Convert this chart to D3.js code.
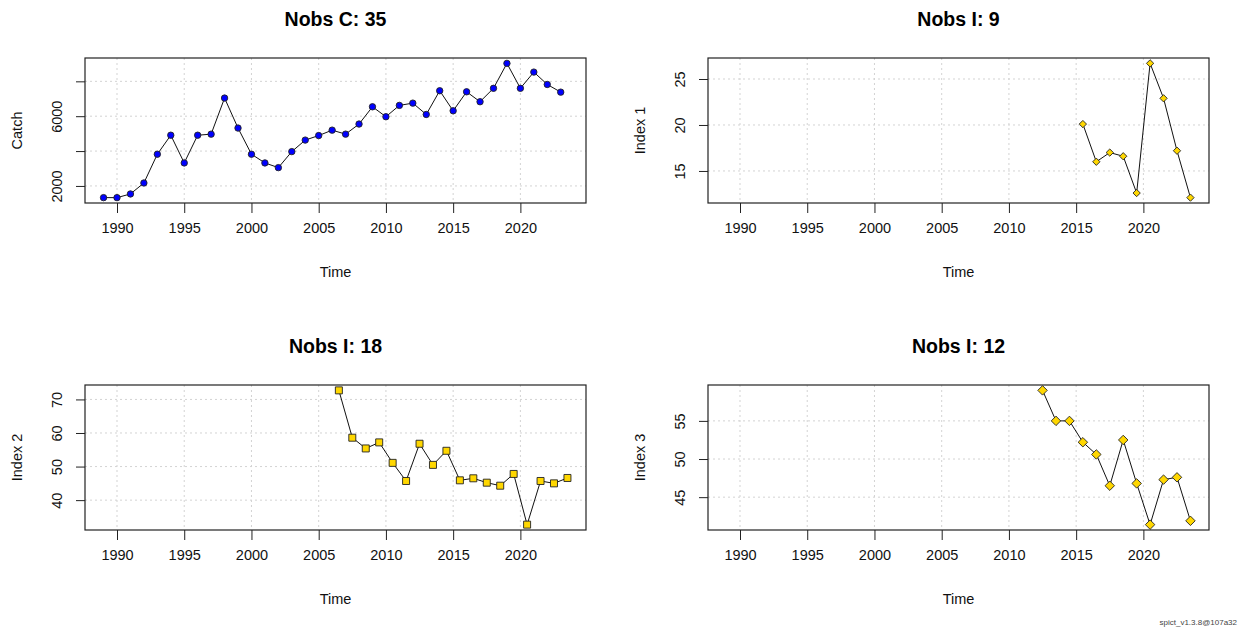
<!DOCTYPE html>
<html>
<head>
<meta charset="utf-8">
<script src="https://cdn.jsdelivr.net/npm/d3@7"></script>
<style>
  html, body { margin: 0; padding: 0; background: #fff; }
  svg { display: block; font-family: "Liberation Sans", Arial, sans-serif; }
</style>
</head>
<body>
<svg id="chart" width="1247" height="629"></svg>
<script>
// Observation data: catch series and three abundance indices
const catchTime = [1989, 1990, 1991, 1992, 1993, 1994, 1995, 1996, 1997, 1998, 1999, 2000,
  2001, 2002, 2003, 2004, 2005, 2006, 2007, 2008, 2009, 2010, 2011, 2012, 2013, 2014,
  2015, 2016, 2017, 2018, 2019, 2020, 2021, 2022, 2023];
const catchValues = [1330, 1330, 1540, 2170, 3820, 4910, 3320, 4910, 4970, 7040, 5320, 3820,
  3320, 3050, 3970, 4630, 4890, 5200, 4970, 5550, 6540, 5970, 6620, 6750, 6100, 7460,
  6310, 7400, 6830, 7600, 9030, 7600, 8530, 7820, 7380];

const index1Time = [2015.5, 2016.5, 2017.5, 2018.5, 2019.5, 2020.5, 2021.5, 2022.5, 2023.5];
const index1Values = [20.1, 16.0, 17.0, 16.6, 12.6, 26.7, 22.9, 17.2, 12.1];

const index2Time = [2006.5, 2007.5, 2008.5, 2009.5, 2010.5, 2011.5, 2012.5, 2013.5, 2014.5,
  2015.5, 2016.5, 2017.5, 2018.5, 2019.5, 2020.5, 2021.5, 2022.5, 2023.5];
const index2Values = [72.7, 58.6, 55.4, 57.2, 51.1, 45.7, 56.8, 50.5, 54.7,
  45.9, 46.5, 45.2, 44.3, 47.8, 32.7, 45.7, 45.0, 46.6];

const index3Time = [2012.5, 2013.5, 2014.5, 2015.5, 2016.5, 2017.5, 2018.5, 2019.5,
  2020.5, 2021.5, 2022.5, 2023.5];
const index3Values = [59.0, 55.0, 55.0, 52.2, 50.6, 46.5, 52.5, 46.8, 41.4, 47.3, 47.6, 41.9];

// Axis ticks and labels
const timeTicks = [1990, 1995, 2000, 2005, 2010, 2015, 2020];
const catchTicks = [2000, 4000, 6000, 8000];
const catchTickLabels = ["2000", "", "6000", ""];
const index1Ticks = [15, 20, 25];
const index2Ticks = [40, 50, 60, 70];
const index3Ticks = [45, 50, 55];

const titles = ["Nobs C: 35", "Nobs I: 9", "Nobs I: 18", "Nobs I: 12"];
const yLabels = ["Catch", "Index 1", "Index 2", "Index 3"];
const footer = "spict_v1.3.8@107a32";

// Panel layout
const panels = [
  { t: catchTime, v: catchValues, ticks: catchTicks, tickLabels: catchTickLabels,
    box: [85, 58, 586, 203], shape: "circle", fill: "#0000ff", size: 3.2 },
  { t: index1Time, v: index1Values, ticks: index1Ticks,
    box: [708, 58, 1209, 203], shape: "diamond", fill: "#ffd700", size: 2.7 },
  { t: index2Time, v: index2Values, ticks: index2Ticks,
    box: [85, 385, 586, 530], shape: "square", fill: "#ffd700", size: 3.5 },
  { t: index3Time, v: index3Values, ticks: index3Ticks,
    box: [708, 385, 1209, 530], shape: "diamond", fill: "#ffd700", size: 3.5 }
];

const svg = d3.select("#chart");

// R-style axis range: data range padded by 4% on each side
function padded(vals) {
  const [lo, hi] = d3.extent(vals);
  const r = hi - lo;
  return [lo - 0.04 * r, hi + 0.04 * r];
}

const allTimes = [].concat(catchTime, index1Time, index2Time, index3Time);
const timeDomain = padded(allTimes);

function markPath(shape, s) {
  if (shape === "diamond") return `M0,${-s * 1.35}L${s * 1.35},0L0,${s * 1.35}L${-s * 1.35},0Z`;
  if (shape === "square") return `M${-s},${-s}H${s}V${s}H${-s}Z`;
  return null;
}

panels.forEach((p, i) => {
  const [x0, y0, x1, y1] = p.box;
  const x = d3.scaleLinear().domain(timeDomain).range([x0, x1]);
  const y = d3.scaleLinear().domain(padded(p.v)).range([y1, y0]);
  const g = svg.append("g");

  // dotted grid
  g.selectAll(".gx").data(timeTicks).join("line")
    .attr("x1", d => x(d)).attr("x2", d => x(d))
    .attr("y1", y0).attr("y2", y1)
    .attr("stroke", "#d3d3d3").attr("stroke-width", 1).attr("stroke-dasharray", "2,3");
  g.selectAll(".gy").data(p.ticks).join("line")
    .attr("x1", x0).attr("x2", x1)
    .attr("y1", d => y(d)).attr("y2", d => y(d))
    .attr("stroke", "#d3d3d3").attr("stroke-width", 1).attr("stroke-dasharray", "2,3");

  // x axis
  const xAxis = d3.axisBottom(x).tickValues(timeTicks).tickFormat(d3.format("d"))
    .tickSizeInner(10).tickSizeOuter(0).tickPadding(10);
  const ax = g.append("g").attr("transform", `translate(0,${y1})`).call(xAxis);
  ax.select(".domain").remove();
  ax.selectAll(".tick line").attr("stroke", "#222");
  ax.selectAll(".tick text").attr("font-size", 14.5).attr("fill", "#111")
    .attr("font-family", "Liberation Sans, Arial, sans-serif");

  // y axis with rotated labels
  const yAxis = d3.axisLeft(y).tickValues(p.ticks)
    .tickFormat((d, k) => p.tickLabels ? p.tickLabels[k] : d3.format("d")(d))
    .tickSizeInner(9).tickSizeOuter(0);
  const ay = g.append("g").attr("transform", `translate(${x0},0)`).call(yAxis);
  ay.select(".domain").remove();
  ay.selectAll(".tick line").attr("stroke", "#222");
  ay.selectAll(".tick text")
    .attr("x", null).attr("dy", null)
    .attr("font-size", 14.5).attr("fill", "#111")
    .attr("font-family", "Liberation Sans, Arial, sans-serif")
    .attr("text-anchor", "middle")
    .attr("dominant-baseline", "central")
    .attr("transform", "translate(-28,0) rotate(-90)");

  // series line
  const line = d3.line().x((d, k) => x(p.t[k])).y(d => y(d));
  g.append("path").datum(p.v).attr("d", line)
    .attr("fill", "none").attr("stroke", "#111").attr("stroke-width", 1);

  // markers
  const pts = g.selectAll(".pt").data(p.v).join(p.shape === "circle" ? "circle" : "path");
  if (p.shape === "circle") {
    pts.attr("cx", (d, k) => x(p.t[k])).attr("cy", d => y(d)).attr("r", p.size);
  } else {
    pts.attr("d", markPath(p.shape, p.size))
      .attr("transform", (d, k) => `translate(${x(p.t[k])},${y(d)})`);
  }
  pts.attr("fill", p.fill).attr("stroke", "#222").attr("stroke-width", 0.9);

  // plot frame
  g.append("rect").attr("x", x0).attr("y", y0)
    .attr("width", x1 - x0).attr("height", y1 - y0)
    .attr("fill", "none").attr("stroke", "#222").attr("stroke-width", 1.2);

  // titles and axis labels
  const cx = (x0 + x1) / 2;
  g.append("text").attr("x", cx).attr("y", y0 - 39)
    .attr("text-anchor", "middle").attr("dominant-baseline", "central")
    .attr("font-size", 19.5).attr("font-weight", "bold").attr("fill", "#000")
    .text(titles[i]);
  g.append("text").attr("x", cx).attr("y", y1 + 69)
    .attr("text-anchor", "middle").attr("dominant-baseline", "central")
    .attr("font-size", 14.5).attr("fill", "#111").text("Time");
  g.append("text")
    .attr("transform", `translate(${x0 - 68},${(y0 + y1) / 2}) rotate(-90)`)
    .attr("text-anchor", "middle").attr("dominant-baseline", "central")
    .attr("font-size", 14.5).attr("fill", "#111").text(yLabels[i]);
});

svg.append("text").attr("x", 1237).attr("y", 625)
  .attr("text-anchor", "end").attr("font-size", 8).attr("fill", "#444")
  .text(footer);
</script>
</body>
</html>
